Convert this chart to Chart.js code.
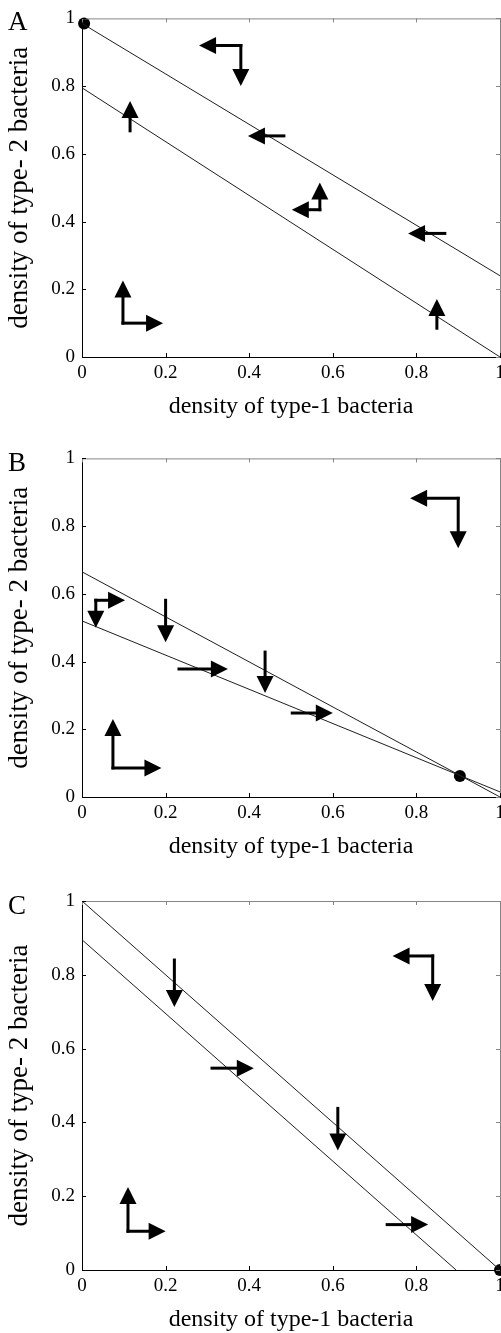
<!DOCTYPE html>
<html>
<head>
<meta charset="utf-8">
<script src="https://cdn.jsdelivr.net/npm/chart.js@4.4.1/dist/chart.umd.min.js"></script>
<style>
  html, body { margin: 0; padding: 0; background: #fff; }
  body { width: 501px; height: 1333px; overflow: hidden; position: relative; }
  canvas { position: absolute; left: 0; }
  .letter {
    position: absolute; left: 8px;
    font-family: 'Liberation Serif', 'Times New Roman', serif;
    font-size: 27px; line-height: 27px; color: #000;
  }
</style>
</head>
<body>
<canvas id="chartA" width="540" height="421" style="top:0px"></canvas>
<canvas id="chartB" width="540" height="421" style="top:440px"></canvas>
<canvas id="chartC" width="540" height="454" style="top:880px"></canvas>

<script>
// Axis texts and ticks
const tickLabels = ['0', '0.2', '0.4', '0.6', '0.8', '1'];
const xTitle = 'density of type-1 bacteria';
const yTitle = 'density of type- 2 bacteria';
const panelLetters = ['A', 'B', 'C'];

// Panel A: nullclines [x, y], equilibrium, arrows [x tail, y tail, x tip, y tip]
const nullclineA1 = [[0, 0.985], [1, 0.24]];
const nullclineA2 = [[0, 0.795], [1, 0]];
const equilibriumA = [[0.005, 0.985]];
const arrowsA = [
  [0.38, 0.92, 0.28, 0.92], [0.38, 0.92, 0.38, 0.80],
  [0.115, 0.668, 0.115, 0.756],
  [0.483, 0.653, 0.397, 0.653],
  [0.569, 0.435, 0.569, 0.515], [0.569, 0.435, 0.502, 0.435],
  [0.868, 0.365, 0.78, 0.365],
  [0.849, 0.085, 0.849, 0.171],
  [0.098, 0.10, 0.098, 0.226], [0.098, 0.10, 0.194, 0.10]
];

// Panel B
const nullclineB1 = [[0, 0.665], [1, 0]];
const nullclineB2 = [[0, 0.52], [1, 0.015]];
const equilibriumB = [[0.904, 0.062]];
const arrowsB = [
  [0.90, 0.882, 0.785, 0.882], [0.90, 0.882, 0.90, 0.735],
  [0.033, 0.581, 0.033, 0.50], [0.033, 0.581, 0.103, 0.581],
  [0.20, 0.581, 0.20, 0.457],
  [0.232, 0.378, 0.349, 0.378],
  [0.438, 0.428, 0.438, 0.307],
  [0.503, 0.248, 0.60, 0.248],
  [0.074, 0.086, 0.074, 0.23], [0.074, 0.086, 0.19, 0.086]
];

// Panel C
const nullclineC1 = [[0, 1], [1, 0]];
const nullclineC2 = [[0, 0.895], [0.895, 0]];
const equilibriumC = [[1, 0]];
const arrowsC = [
  [0.839, 0.851, 0.743, 0.851], [0.839, 0.851, 0.839, 0.729],
  [0.221, 0.84, 0.221, 0.713],
  [0.311, 0.547, 0.411, 0.547],
  [0.612, 0.438, 0.612, 0.324],
  [0.73, 0.123, 0.828, 0.123],
  [0.11, 0.105, 0.11, 0.225], [0.11, 0.105, 0.20, 0.105]
];

const serif = 'Liberation Serif';
Chart.defaults.font.family = serif;

/* ================================
   PLUGIN: marco, ticks y flechas
================================= */
const phasePlot = {
  id: 'phasePlot',
  afterDatasetsDraw(chart, args, opts) {
    const { ctx, scales: { x, y } } = chart;
    const head = 17, half = 8.5;
    ctx.save();
    ctx.fillStyle = '#000';
    ctx.strokeStyle = '#000';
    ctx.lineWidth = 3;
    ctx.lineCap = 'square';
    (opts.arrows || []).forEach(([x0, y0, x1, y1]) => {
      const ax = x.getPixelForValue(x0), ay = y.getPixelForValue(y0);
      const bx = x.getPixelForValue(x1), by = y.getPixelForValue(y1);
      const len = Math.hypot(bx - ax, by - ay);
      const ux = (bx - ax) / len, uy = (by - ay) / len;
      const hx = bx - ux * head, hy = by - uy * head;
      ctx.beginPath();
      ctx.moveTo(ax, ay);
      ctx.lineTo(hx, hy);
      ctx.stroke();
      ctx.beginPath();
      ctx.moveTo(bx, by);
      ctx.lineTo(hx - uy * half, hy + ux * half);
      ctx.lineTo(hx + uy * half, hy - ux * half);
      ctx.closePath();
      ctx.fill();
    });
    ctx.restore();
  },
  afterDraw(chart) {
    const { ctx, chartArea: { left, right, top, bottom }, scales: { x, y } } = chart;
    const tick = 4;
    ctx.save();
    ctx.lineWidth = 1;

    // top and right frame in grey
    ctx.strokeStyle = '#858585';
    ctx.beginPath();
    ctx.moveTo(left, top + 0.5); ctx.lineTo(right + 1, top + 0.5);
    ctx.moveTo(right + 0.5, top); ctx.lineTo(right + 0.5, bottom);
    ctx.stroke();
    x.ticks.forEach(t => {
      const px = Math.round(x.getPixelForValue(t.value)) + 0.5;
      ctx.beginPath(); ctx.moveTo(px, top); ctx.lineTo(px, top + tick); ctx.stroke();
    });
    y.ticks.forEach(t => {
      const py = Math.round(y.getPixelForValue(t.value)) + 0.5;
      ctx.beginPath(); ctx.moveTo(right, py); ctx.lineTo(right - tick, py); ctx.stroke();
    });

    // inward ticks on left and bottom
    ctx.strokeStyle = '#000';
    x.ticks.forEach(t => {
      const px = Math.round(x.getPixelForValue(t.value)) + 0.5;
      ctx.beginPath(); ctx.moveTo(px, bottom); ctx.lineTo(px, bottom - tick); ctx.stroke();
    });
    y.ticks.forEach(t => {
      const py = Math.round(y.getPixelForValue(t.value)) + 0.5;
      ctx.beginPath(); ctx.moveTo(left, py); ctx.lineTo(left + tick, py); ctx.stroke();
    });
    ctx.restore();
  }
};

/* ================================
   PANEL (un gráfico por lámina)
================================= */
class PhasePanel {
  constructor(cfg) {
    this.cfg = cfg;
    this.canvas = document.getElementById(cfg.canvasId);
    this.init();
  }

  init() {
    this.addLetter();
    this.chart = new Chart(this.canvas, this.buildConfig());
  }

  addLetter() {
    const div = document.createElement('div');
    div.className = 'letter';
    div.style.top = this.cfg.letterTop + 'px';
    div.textContent = this.cfg.letter;
    document.body.appendChild(div);
  }

  toPoints(list) {
    return list.map(([x, y]) => ({ x, y }));
  }

  buildConfig() {
    const c = this.cfg;
    const lineStyle = { showLine: true, borderColor: '#1e1e1e', borderWidth: 1, pointRadius: 0, fill: false };
    const tickFont = { family: serif, size: 19 };

    return {
      type: 'scatter',
      data: {
        datasets: [
          { ...lineStyle, data: this.toPoints(c.lines[0]) },
          { ...lineStyle, data: this.toPoints(c.lines[1]) },
          {
            data: this.toPoints(c.equilibrium),
            pointRadius: 6, pointBackgroundColor: '#000', pointBorderColor: '#000',
            pointBorderWidth: 0, clip: false
          }
        ]
      },
      options: {
        responsive: false,
        animation: false,
        events: [],
        layout: { padding: { top: c.padTop, right: 40, left: 0, bottom: 0 } },
        plugins: {
          legend: { display: false },
          tooltip: { enabled: false },
          phasePlot: { arrows: c.arrows }
        },
        scales: {
          x: {
            type: 'linear', position: 'bottom', min: 0, max: 1,
            grid: { display: false, drawTicks: false },
            border: { display: true, color: '#000', width: 1 },
            ticks: {
              stepSize: 0.2, padding: 5, maxRotation: 0, autoSkip: false,
              color: '#000', font: tickFont,
              callback: (v, i) => tickLabels[i]
            },
            title: { display: true, text: xTitle, color: '#000', font: { family: serif, size: 24 }, padding: 0 },
            afterFit: s => { s.height = 64; }
          },
          y: {
            type: 'linear', position: 'left', min: 0, max: 1,
            grid: { display: false, drawTicks: false },
            border: { display: true, color: '#000', width: 1 },
            ticks: {
              stepSize: 0.2, padding: 7, color: '#000', font: tickFont,
              callback: (v, i) => tickLabels[i]
            },
            title: { display: true, text: yTitle, color: '#000', font: { family: serif, size: 27 }, padding: { top: 4, bottom: 0 } },
            afterFit: s => { s.width = 82; }
          }
        }
      },
      plugins: [phasePlot]
    };
  }
}

document.addEventListener('DOMContentLoaded', () => {
  new PhasePanel({ canvasId: 'chartA', letter: panelLetters[0], letterTop: 8, padTop: 17,
    lines: [nullclineA1, nullclineA2], equilibrium: equilibriumA, arrows: arrowsA });
  new PhasePanel({ canvasId: 'chartB', letter: panelLetters[1], letterTop: 449, padTop: 18,
    lines: [nullclineB1, nullclineB2], equilibrium: equilibriumB, arrows: arrowsB });
  new PhasePanel({ canvasId: 'chartC', letter: panelLetters[2], letterTop: 892, padTop: 21,
    lines: [nullclineC1, nullclineC2], equilibrium: equilibriumC, arrows: arrowsC });
});
</script>
</body>
</html>
